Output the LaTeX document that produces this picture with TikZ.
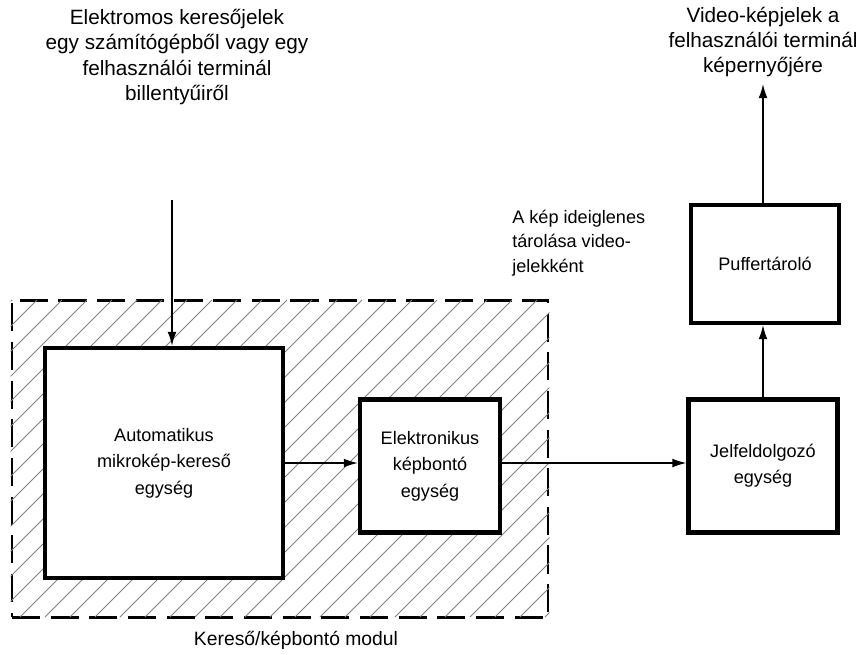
\documentclass[tikz,border=0pt]{standalone}
\usepackage{fontspec}
\setmainfont{Liberation Sans}
\usetikzlibrary{arrows.meta, positioning}
\tikzset{
    base/.style={draw=black, line width=2.4pt, align=center, inner sep=4pt, font=\fontsize{10.3}{15}\selectfont},
    block/.style={base, rectangle, fill=white},
    note/.style={align=center, inner sep=0pt},
    line/.style={draw=black, line width=0.8pt, -{Latex[length=8pt, width=5pt]}},
    hatch/.style={draw=black!50, line width=0.5pt},
    modulbox/.style={draw=black, line width=1.6pt, dash pattern=on 16pt off 6pt, minimum width=10.72cm, minimum height=6.34cm}
}

\begin{document}
\begin{tikzpicture}[x=0.02cm, y=-0.02cm, font=\fontsize{11.8}{14.5}\selectfont]
    \useasboundingbox (0,0) rectangle (861,654);

    \node [modulbox] (modul) at (280,459) {};
    \begin{scope}
        \clip (modul.south west) rectangle (modul.north east);
        \foreach \c in {312,337,...,1170}
            \draw [hatch] ({\c-617},617) -- ({\c-300},300);
    \end{scope}
    \node [note, font=\fontsize{11}{13}\selectfont] (modulnev) at (296,640) {Kereső/képbontó modul};

    \node [block, minimum width=4.76cm, minimum height=4.6cm] (AUT) at (164,463) {Automatikus\\mikrokép-kereső\\egység};
    \node [block, minimum width=2.8cm, minimum height=2.66cm] (EK) at (430,466) {Elektronikus\\képbontó\\egység};
    \node [block, minimum width=2.98cm, minimum height=2.66cm] (JF) at (763,466) {Jelfeldolgozó\\egység};
    \node [block, minimum width=2.96cm, minimum height=2.36cm] (PT) at (765,264) {Puffertároló};

    \node [note] (BE) at (177,57) {Elektromos keresőjelek\\egy számítógépből vagy egy\\felhasználói terminál\\billentyűiről};
    \node [note] (KI) at (763,42) {Video-képjelek a\\felhasználói terminál\\képernyőjére};
    \node [note, font=\fontsize{10.3}{14}\selectfont, align=left, anchor=west] (TAR) at (512,243) {A kép ideiglenes\\tárolása video-\\jelekként};

    \coordinate (be) at (172,200);
    \coordinate (ki) at (763,84);

    \draw [line] (be) -- (be |- AUT.north);
    \draw [line] (AUT.east |- 0,463) -- (EK.west |- 0,463);
    \draw [line] (EK.east |- 0,463) -- (JF.west |- 0,463);
    \draw [line] (JF.north) -- (JF.north |- PT.south);
    \draw [line] (JF.north |- PT.north) -- (ki);
\end{tikzpicture}
\end{document}
